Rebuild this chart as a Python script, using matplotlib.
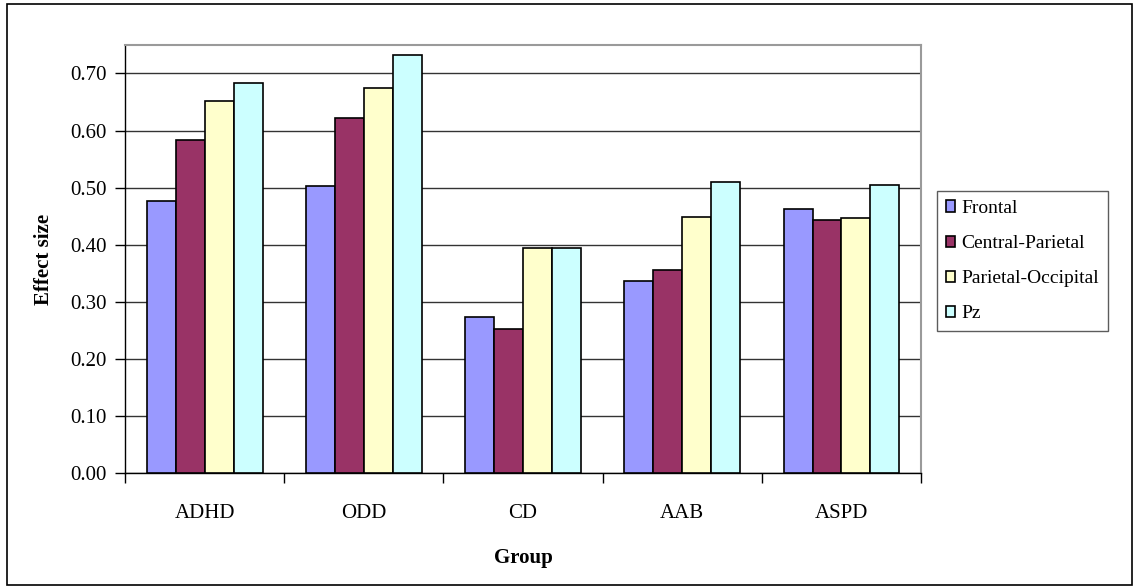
import numpy as np
import matplotlib.pyplot as plt
from matplotlib.patches import Rectangle

plt.rcParams['font.family'] = ['Liberation Serif', 'DejaVu Serif']

groups = ["ADHD", "ODD", "CD", "AAB", "ASPD"]
regions = ["Frontal", "Central-Parietal", "Parietal-Occipital", "Pz"]
frontal = [0.477, 0.502, 0.273, 0.336, 0.463]
central_parietal = [0.584, 0.622, 0.252, 0.356, 0.443]
parietal_occipital = [0.652, 0.674, 0.394, 0.449, 0.446]
pz = [0.683, 0.732, 0.394, 0.510, 0.505]
colors = ["#9999FF", "#993366", "#FFFFCC", "#CCFFFF"]

series = [frontal, central_parietal, parietal_occipital, pz]

fig = plt.figure(figsize=(11.39, 5.88), dpi=100)
ax = fig.add_axes([0.1097, 0.1956, 0.699, 0.728])

x = np.arange(len(groups))
w = 0.182
for i, (vals, name, c) in enumerate(zip(series, regions, colors)):
    ax.bar(x + (i - 1.5) * w, vals, width=w, color=c, edgecolor="black",
           linewidth=1.2, label=name, zorder=3)

ax.set_xlim(-0.5, len(groups) - 0.5)
ax.set_ylim(0, 0.75)
ax.set_yticks(np.arange(0, 0.71, 0.1))
ax.set_yticklabels([f"{v:.2f}" for v in np.arange(0, 0.71, 0.1)])
ax.yaxis.grid(True, color="#333333", linewidth=1.0, zorder=0)
ax.set_axisbelow(True)

# category labels centred, tick marks between categories
ax.set_xticks(np.arange(-0.5, len(groups)), minor=False)
ax.set_xticklabels([])
ax.set_xticks(x, minor=True)
ax.set_xticklabels(groups, minor=True)
ax.tick_params(axis="x", which="major", length=7, width=1, direction="out")
ax.tick_params(axis="x", which="minor", length=0, pad=22, labelsize=15)
ax.tick_params(axis="y", length=7, width=1, direction="out", labelsize=15, pad=6)

for s in ["left", "bottom"]:
    ax.spines[s].set_color("black")
    ax.spines[s].set_linewidth(1.0)
for s in ["top", "right"]:
    ax.spines[s].set_color("#9a9a9a")
    ax.spines[s].set_linewidth(1.5)

ax.set_ylabel("Effect size", fontweight="bold", fontsize=15, labelpad=12)
ax.set_xlabel("Group", fontweight="bold", fontsize=15, labelpad=18)

leg = fig.legend(*ax.get_legend_handles_labels(), loc="center left",
                 bbox_to_anchor=(937 / 1139, 1 - 261 / 588), frameon=True,
                 fancybox=False, edgecolor="#333333", fontsize=14,
                 handlelength=0.5, handleheight=0.5, handletextpad=0.3,
                 labelspacing=0.93, borderpad=0.45, borderaxespad=0)
leg.get_frame().set_linewidth(1.0)

# outer chart border
fig.patches.append(Rectangle((0.006, 0.005), 0.988, 0.988, transform=fig.transFigure,
                             fill=False, edgecolor="black", linewidth=1.2))

fig.savefig("out.png", dpi=100)
